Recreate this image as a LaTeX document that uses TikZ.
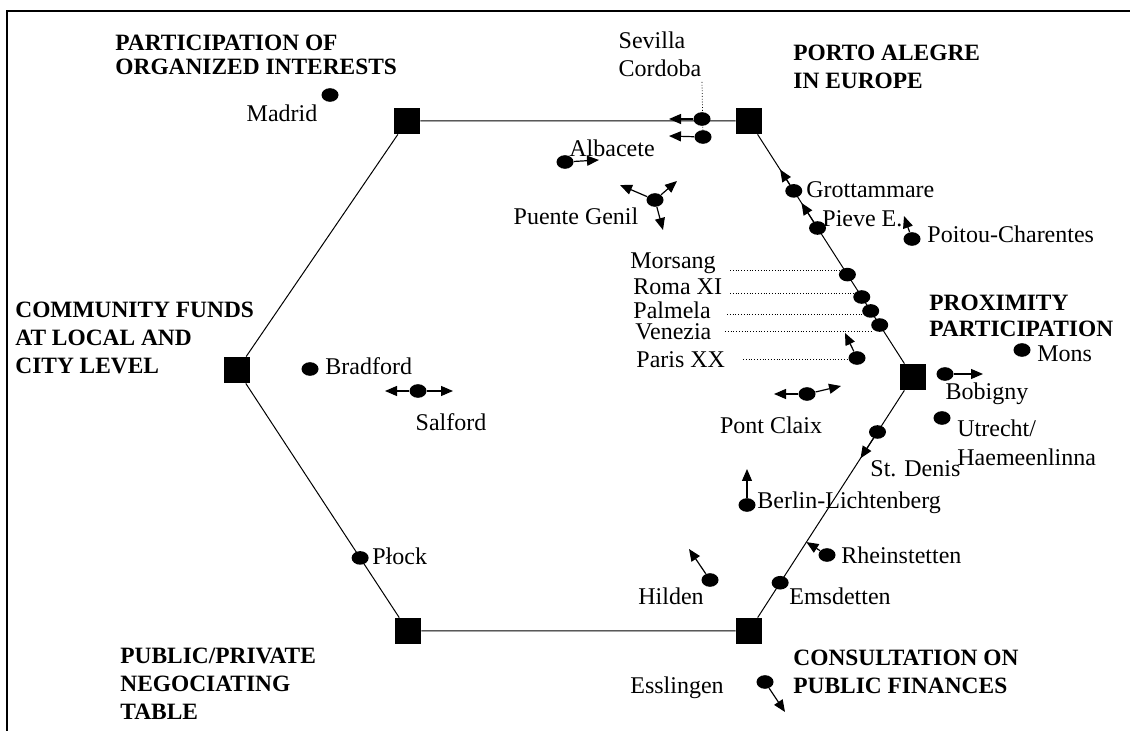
\documentclass[tikz,border=0pt]{standalone}
\usepackage{fontspec}
\setmainfont{Liberation Serif}
\usetikzlibrary{calc,arrows.meta,shapes.geometric}

\tikzset{
  corner/.style={rectangle,fill=black,minimum size=13pt,inner sep=0pt},
  town/.style={ellipse,fill=black,minimum width=8.5pt,minimum height=6.8pt,inner sep=0pt},
  lab/.style={inner sep=0pt,font=\fontsize{12}{14.5}\selectfont},
  head/.style={inner sep=0pt,align=left,font=\fontsize{11.7}{13.8}\selectfont\bfseries},
  move/.style={-{Triangle[length=6pt,width=5pt]},line width=0.6pt},
  leader/.style={densely dotted,line width=0.4pt}
}

\begin{document}
\begin{tikzpicture}[x=0.5pt,y=-0.5pt]
  \useasboundingbox (0,0) rectangle (1130,731);
  \draw[line width=1pt] (7,731) -- (7,11) -- (1130,11);

  \node[corner] (tl) at (407,121) {};
  \node[corner] (tr) at (749,121) {};
  \node[corner] (r) at (913,377) {};
  \node[corner] (br) at (749,631) {};
  \node[corner] (bl) at (408,631) {};
  \node[corner] (l) at (237,370) {};
  \draw[line width=0.5pt] (tl) -- (tr) -- (r) -- (br) -- (bl) -- (l) -- (tl);

  \node[head,anchor=north west] (organized) at (115,35) {PARTICIPATION OF\\[-1.8pt]ORGANIZED INTERESTS};
  \node[head,anchor=north west] (portoalegre) at (793,45) {PORTO ALEGRE\\IN EUROPE};
  \node[head,anchor=north west] (proximity) at (929,295) {PROXIMITY\\[-1pt]PARTICIPATION};
  \node[head,anchor=north west] (community) at (15,302) {COMMUNITY FUNDS\\AT LOCAL AND\\CITY LEVEL};
  \node[head,anchor=north west] (negociating) at (120,648) {PUBLIC/PRIVATE\\NEGOCIATING\\TABLE};
  \node[head,anchor=north west] (consultation) at (793,650) {CONSULTATION ON\\PUBLIC FINANCES};

  % top edge
  \node[town] (madrid) at (330,95) {};
  \node[lab] (madridlab) at (282,113) {Madrid};
  \node[town] (sevilla) at (702,119) {};
  \node[town] (cordoba) at (703,137) {};
  \coordinate (sevillato) at (669,119);
  \coordinate (cordobato) at (669,136);
  \coordinate (cordobatop) at (702,82);
  \draw[leader] (cordobatop) -- (cordoba);
  \draw[move] (sevilla) -- (sevillato);
  \draw[move] (cordoba) -- (cordobato);
  \node[lab] (sevillalab) at (652,40) {Sevilla};
  \node[lab] (cordobalab) at (660,68) {Cordoba};
  \node[town] (albacete) at (565,162) {};
  \coordinate (albaceteto) at (599,160);
  \draw[move] (albacete) -- (albaceteto);
  \node[lab] (albacetelab) at (612,148) {Albacete};
  \node[town] (puente) at (655,200) {};
  \coordinate (puenteto1) at (620,185);
  \coordinate (puenteto2) at (677,181);
  \coordinate (puenteto3) at (663,230);
  \draw[move] (puente) -- (puenteto1);
  \draw[move] (puente) -- (puenteto2);
  \draw[move] (puente) -- (puenteto3);
  \node[lab] (puentelab) at (576,216) {Puente Genil};

  % upper right edge
  \node[town] (grotta) at ($(tr)!0.273!(r)$) {};
  \coordinate (grottato) at ($(tr)!0.19!(r)$);
  \draw[move] (grotta) -- (grottato);
  \node[lab,anchor=west] (grottalab) at (806,190) {Grottammare};
  \node[town] (pieve) at ($(tr)!0.418!(r)$) {};
  \coordinate (pieveto) at ($(tr)!0.32!(r)$);
  \draw[move] (pieve) -- (pieveto);
  \node[lab,anchor=west] (pievelab) at (822,219) {Pieve E.};
  \node[town] (poitou) at (912,239) {};
  \coordinate (poitouto) at (904,216);
  \draw[move] (poitou) -- (poitouto);
  \node[lab,anchor=west] (poitoulab) at (927,234) {Poitou-Charentes};

  \node[town] (morsang) at ($(tr)!0.6!(r)$) {};
  \node[town] (roma) at ($(tr)!0.6875!(r)$) {};
  \node[town] (palmela) at ($(tr)!0.742!(r)$) {};
  \node[town] (venezia) at ($(tr)!0.797!(r)$) {};
  \node[town] (paris) at (857,358) {};
  \node[lab,anchor=west] (morsanglab) at (630,263) {Morsang};
  \node[lab,anchor=west] (romalab) at (633,287) {Roma XI};
  \node[lab,anchor=west] (palmelalab) at (633,310) {Palmela};
  \node[lab,anchor=west] (venezialab) at (635,332) {Venezia};
  \node[lab,anchor=west] (parislab) at (636,360) {Paris XX};
  \coordinate (morsangfrom) at (730,270);
  \coordinate (morsangto) at (845,270);
  \coordinate (romafrom) at (730,293);
  \coordinate (romato) at (860,293);
  \coordinate (palmelafrom) at (727,314);
  \coordinate (palmelato) at (865,314);
  \coordinate (veneziafrom) at (725,331);
  \coordinate (veneziato) at (872,331);
  \coordinate (parisfrom) at (743,359);
  \coordinate (paristo) at (849,359);
  \draw[leader] (morsangfrom) -- (morsangto);
  \draw[leader] (romafrom) -- (romato);
  \draw[leader] (palmelafrom) -- (palmelato);
  \draw[leader] (veneziafrom) -- (veneziato);
  \draw[leader] (parisfrom) -- (paristo);
  \coordinate (paristip) at (845,333);
  \draw[move] (paris) -- (paristip);

  \node[town] (pontclaix) at (807,394) {};
  \coordinate (pontclaixto1) at (774,394);
  \coordinate (pontclaixto2) at (841,386);
  \draw[move] (pontclaix) -- (pontclaixto1);
  \draw[move] (pontclaix) -- (pontclaixto2);
  \node[lab] (pontclaixlab) at (771,425) {Pont Claix};

  % right corner
  \node[town] (mons) at (1022,350) {};
  \node[lab,anchor=west] (monslab) at (1037,354) {Mons};
  \node[town] (bobigny) at (945,374) {};
  \coordinate (bobignyto) at (983,374);
  \draw[move] (bobigny) -- (bobignyto);
  \node[lab] (bobignylab) at (987,394) {Bobigny};
  \node[town] (utrecht) at (942,418) {};
  \node[lab,anchor=west,align=left] (utrechtlab) at (957,443) {Utrecht/\\Haemeenlinna};

  % lower right edge
  \node[town] (stdenis) at ($(r)!0.2165!(br)$) {};
  \coordinate (stdenisto) at ($(r)!0.32!(br)$);
  \draw[move] (stdenis) -- (stdenisto);
  \node[lab,anchor=west] (stdenislab) at (870,469) {St. Denis};
  \node[town] (berlin) at (747,505) {};
  \coordinate (berlinto) at (747,469);
  \draw[move] (berlin) -- (berlinto);
  \node[lab,anchor=west] (berlinlab) at (757,503) {Berlin-Lichtenberg};
  \node[town] (rheinstetten) at (827,555) {};
  \coordinate (rheinstettento) at ($(r)!0.65!(br)$);
  \draw[move] (rheinstetten) -- (rheinstettento);
  \node[lab,anchor=west] (rheinstettenlab) at (841,555) {Rheinstetten};
  \node[town] (emsdetten) at ($(r)!0.81!(br)$) {};
  \node[lab] (emsdettenlab) at (840,596) {Emsdetten};
  \node[town] (hilden) at (710,580) {};
  \coordinate (hildento) at (689,549);
  \draw[move] (hilden) -- (hildento);
  \node[lab] (hildenlab) at (671,596) {Hilden};
  \node[town] (esslingen) at (765,682) {};
  \coordinate (esslingento) at (785,712);
  \draw[move] (esslingen) -- (esslingento);
  \node[lab] (esslingenlab) at (677,688) {Esslingen};

  % left half
  \node[town] (plock) at ($(l)!0.72!(bl)$) {};
  \node[lab,anchor=west] (plocklab) at (372,556) {Płock};
  \node[town] (bradford) at (310,369) {};
  \node[lab,anchor=west] (bradfordlab) at (325,366) {Bradford};
  \node[town] (salford) at (418,391) {};
  \coordinate (salfordto1) at (385,391);
  \coordinate (salfordto2) at (453,391);
  \draw[move] (salford) -- (salfordto1);
  \draw[move] (salford) -- (salfordto2);
  \node[lab] (salfordlab) at (451,422) {Salford};
\end{tikzpicture}
\end{document}
